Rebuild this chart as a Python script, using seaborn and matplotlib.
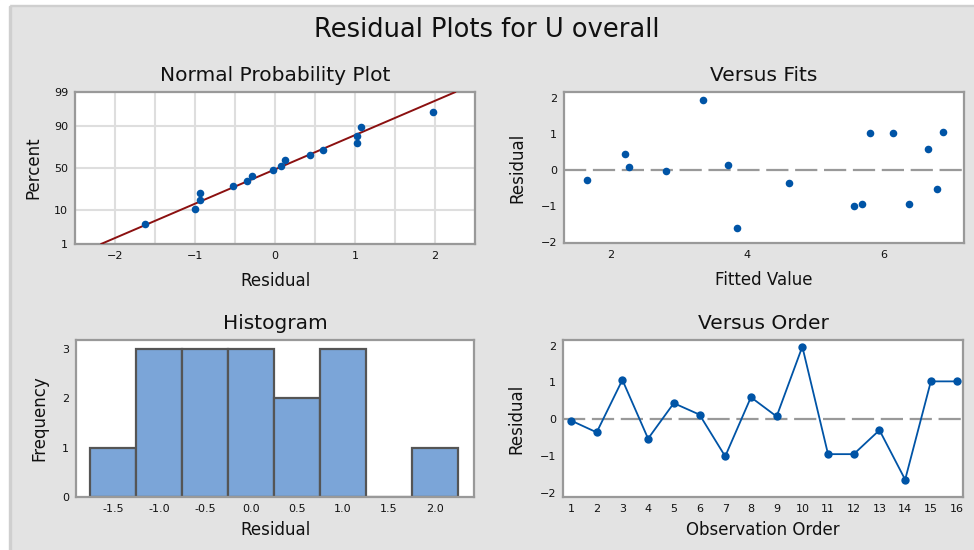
import numpy as np
import pandas as pd
import matplotlib.pyplot as plt
import seaborn as sns
from statistics import NormalDist
from matplotlib.patches import Rectangle

# residuals (observation order)
order = list(range(1, 17))
residual = [-0.03, -0.35, 1.07, -0.52, 0.44, 0.13, -1.0, 0.6,
            0.08, 1.97, -0.94, -0.94, -0.29, -1.63, 1.03, 1.03]
fitted = [2.82, 4.62, 6.87, 6.78, 2.22, 3.72, 5.57, 6.65,
          2.27, 3.35, 5.69, 6.37, 1.65, 3.86, 5.8, 6.14]

pct_ticks = [1, 10, 50, 90, 99]
hist_ticks = [-1.5, -1.0, -0.5, 0.0, 0.5, 1.0, 1.5, 2.0]

df = pd.DataFrame({"order": order, "residual": residual, "fitted": fitted})

sns.set_theme(style="white")
plt.rcParams['font.family'] = ['DejaVu Sans']

W, H = 974, 550
BG = "#e3e3e3"
BLUE = "#0054a6"
SPINE = "#999999"
TXT = "#111111"

fig = plt.figure(figsize=(W / 100, H / 100), dpi=100, facecolor=BG)
# white frame strips like the screenshot
fig.patches.append(Rectangle((0, 1 - 5 / H), 1, 5 / H, transform=fig.transFigure, color="white", zorder=0))
fig.patches.append(Rectangle((0, 1 - 6 / H), 1, 1 / H, transform=fig.transFigure, color="#cfcfcf", zorder=0))
fig.patches.append(Rectangle((0, 0), 9 / W, 1, transform=fig.transFigure, color="white", zorder=0))
fig.patches.append(Rectangle((9 / W, 0), 2 / W, 1 - 6 / H, transform=fig.transFigure, color="#cfcfcf", zorder=0))


def rect(l, t, r, b):
    return [l / W, 1 - b / H, (r - l) / W, (b - t) / H]


def style(ax):
    for s in ax.spines.values():
        s.set_color(SPINE)
        s.set_linewidth(1.6)
    ax.set_facecolor("white")
    ax.tick_params(axis="both", labelsize=8, length=3, width=1, color=SPINE,
                   colors=TXT, pad=2)
    ax.tick_params(axis="both", which="both", color=SPINE)


fig.text(0.5, 1 - 30 / H, "Residual Plots for U overall", fontsize=18.5,
         ha="center", va="center", color=TXT)

# ---- Normal probability plot
ax1 = fig.add_axes(rect(75, 92, 475, 244))
style(ax1)
nd = NormalDist()
n = len(residual)
sorted_res = np.sort(residual)
z = np.array([nd.inv_cdf((i - 0.3) / (n + 0.4)) for i in range(1, n + 1)])
mu, sd = np.mean(residual), np.std(residual, ddof=1)
zline = np.array([nd.inv_cdf(0.01), nd.inv_cdf(0.99)])
npp = pd.DataFrame({"res": sorted_res, "z": z})
line = pd.DataFrame({"x": mu + sd * zline, "z": zline})
sns.lineplot(data=line, x="x", y="z", ax=ax1, color="#8b1010", lw=1.4, zorder=3)
sns.scatterplot(data=npp, x="res", y="z", ax=ax1, color=BLUE, s=30, marker="o",
                edgecolor=BLUE, linewidth=0, zorder=4)
ax1.set_xlim(-2.5, 2.5)
ax1.set_ylim(nd.inv_cdf(0.01), nd.inv_cdf(0.99))
ax1.set_xticks([-2, -1, 0, 1, 2])
ax1.set_xticks(np.arange(-2.5, 2.51, 0.5), minor=True)
ax1.tick_params(axis="x", which="minor", length=0)
ax1.set_yticks([nd.inv_cdf(p / 100) for p in pct_ticks])
ax1.set_yticklabels([str(p) for p in pct_ticks])
ax1.grid(True, which="both", axis="x", color="#dedede", lw=1.5)
ax1.grid(True, which="major", axis="y", color="#dedede", lw=1.5)
ax1.set_axisbelow(True)
ax1.set_xlabel("Residual", fontsize=12, labelpad=8, color=TXT)
ax1.set_ylabel("Percent", fontsize=12, labelpad=8, color=TXT)
ax1.set_title("Normal Probability Plot", fontsize=14.5, pad=8, color=TXT)

# ---- Versus fits
ax2 = fig.add_axes(rect(564, 92, 964, 243))
style(ax2)
ax2.axhline(0, color=SPINE, lw=1.6, dashes=(10, 3), zorder=1)
sns.scatterplot(data=df, x="fitted", y="residual", ax=ax2, color=BLUE, s=30,
                linewidth=0, zorder=3)
ax2.set_xlim(1.32, 7.18)
ax2.set_ylim(-2.04, 2.18)
ax2.set_xticks([2, 4, 6])
ax2.set_yticks([-2, -1, 0, 1, 2])
ax2.set_xlabel("Fitted Value", fontsize=12, labelpad=8, color=TXT)
ax2.set_ylabel("Residual", fontsize=12, labelpad=10, color=TXT)
ax2.set_title("Versus Fits", fontsize=14.5, pad=8, color=TXT)

# ---- Histogram
ax3 = fig.add_axes(rect(76, 340, 474, 497))
style(ax3)
sns.histplot(data=df, x="residual", ax=ax3, binwidth=0.5, binrange=(-1.75, 2.25),
             color="#7ba5d8", alpha=1, edgecolor="#555555", linewidth=1.6)
ax3.set_xlim(-1.906, 2.424)
ax3.set_ylim(0, 3.18)
ax3.set_xticks(hist_ticks)
ax3.set_xticklabels([f"{t:.1f}" for t in hist_ticks])
ax3.set_yticks([0, 1, 2, 3])
ax3.set_xlabel("Residual", fontsize=12, labelpad=5, color=TXT)
ax3.set_ylabel("Frequency", fontsize=12, labelpad=10, color=TXT)
ax3.set_title("Histogram", fontsize=14.5, pad=8, color=TXT)

# ---- Versus order
ax4 = fig.add_axes(rect(563, 340, 963, 497))
style(ax4)
ax4.axhline(0, color=SPINE, lw=1.6, dashes=(10, 3), zorder=1)
sns.lineplot(data=df, x="order", y="residual", ax=ax4, color=BLUE, lw=1.3,
             marker="o", markersize=6, markeredgewidth=0, zorder=3)
ax4.set_xlim(0.69, 16.25)
ax4.set_ylim(-2.1, 2.15)
ax4.set_xticks(order)
ax4.set_yticks([-2, -1, 0, 1, 2])
ax4.set_xlabel("Observation Order", fontsize=12, labelpad=5, color=TXT)
ax4.set_ylabel("Residual", fontsize=12, labelpad=10, color=TXT)
ax4.set_title("Versus Order", fontsize=14.5, pad=8, color=TXT)

fig.savefig("out.png", dpi=100, facecolor=BG)
